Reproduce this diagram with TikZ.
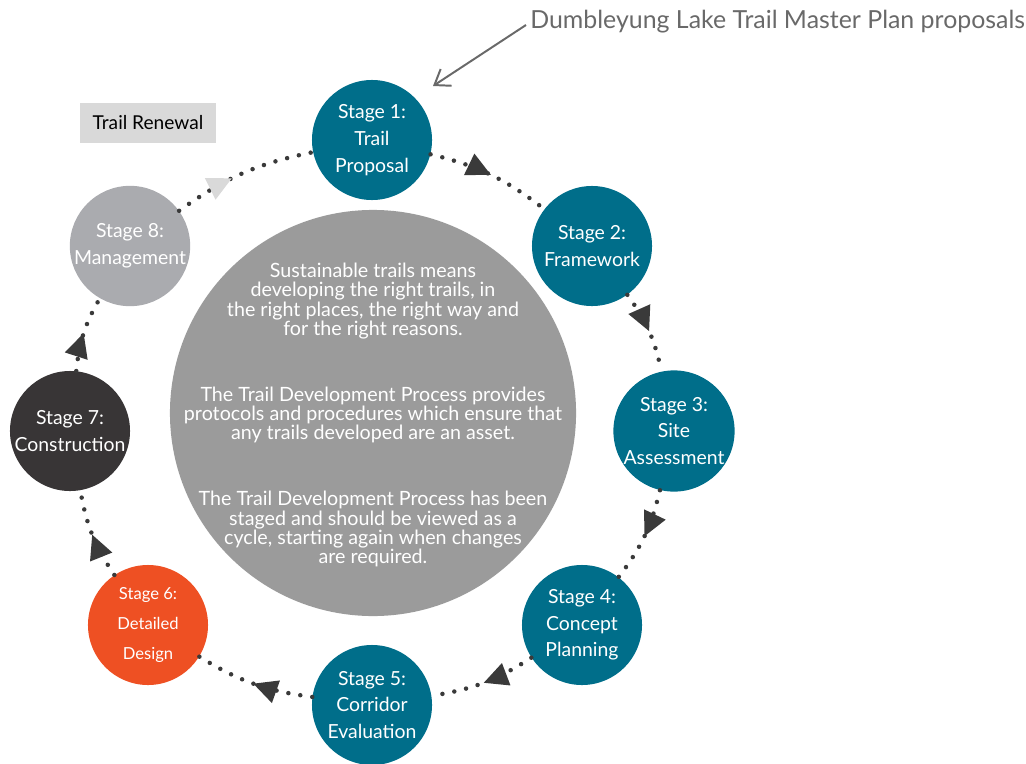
\documentclass[tikz,border=0pt]{standalone}
\usepackage{fontspec}
\setmainfont{Lato}
\usepackage{xcolor}
\definecolor{stageteal}{RGB}{0, 110, 138}
\definecolor{stageorange}{RGB}{238, 80, 35}
\definecolor{stagedark}{RGB}{56, 53, 54}
\definecolor{stagelight}{RGB}{170, 171, 175}
\definecolor{centregray}{RGB}{155, 155, 155}
\definecolor{dotgray}{RGB}{58, 58, 58}
\definecolor{renewgray}{RGB}{217, 217, 217}
\definecolor{titlegray}{RGB}{105, 105, 105}
\usetikzlibrary{arrows.meta,decorations.markings}

\begin{document}
\begin{tikzpicture}[x=0.025cm, y=-0.025cm,
    stage/.style={circle, minimum size=3cm, inner sep=0pt, text=white, align=center, font=\fontsize{13.8}{19}\selectfont},
    dotline/.style={dotgray, line width=3.2pt, line cap=round, dash pattern=on 0pt off 8.6pt},
    flow/.style={dotline, postaction={decorate}, decoration={markings, mark=at position #1 with {\arrow[dotgray, line width=0pt]{Triangle[length=6mm, width=6mm]}}}},
    flow/.default=0.5]
    \useasboundingbox (0,0) rectangle (1026,763);

    % Centre circle
    \node[circle, fill=centregray, minimum size=10.15cm, inner sep=0pt] (core) at (373,413) {};
    \node[text=white, align=center, font=\fontsize{14}{13.6}\selectfont] (para1) at (373,301)
        {Sustainable trails means\\developing the right trails, in\\the right places, the right way and\\for the right reasons.};
    \node[text=white, align=center, font=\fontsize{14}{13.6}\selectfont] (para2) at (373,415)
        {The Trail Development Process provides\\protocols and procedures which ensure that\\any trails developed are an asset.};
    \node[text=white, align=center, font=\fontsize{14}{13.6}\selectfont] (para3) at (373,529)
        {The Trail Development Process has been\\staged and should be viewed as a\\cycle, starting again when changes\\are required.};

    % Stages
    \node[stage, fill=stageteal] (s1) at (372,140) {Stage 1:\\Trail\\Proposal};
    \node[stage, fill=stageteal] (s2) at (592,246) {Stage 2:\\Framework};
    \node[stage, fill=stageteal] (s3) at (674,431) {Stage 3:\\Site\\Assessment};
    \node[stage, fill=stageteal] (s4) at (582,625) {Stage 4:\\Concept\\Planning};
    \node[stage, fill=stageteal] (s5) at (372,705) {Stage 5:\\Corridor\\Evaluation};
    \node[stage, fill=stageorange, font=\fontsize{11.8}{21}\selectfont] (s6) at (148,625) {Stage 6:\\Detailed\\Design};
    \node[stage, fill=stagedark] (s7) at (70,431) {Stage 7:\\Construction};
    \node[stage, fill=stagelight] (s8) at (130,246) {Stage 8:\\Management};

    % Renewal label and title
    \node[fill=renewgray, minimum width=3.4cm, minimum height=0.975cm, font=\fontsize{13.6}{15}\selectfont] (renew) at (148,123) {Trail Renewal};
    \node[anchor=west, text=titlegray, inner sep=0pt, font=\fontsize{17.7}{19}\selectfont] (title) at (530,22) {Dumbleyung Lake Trail Master Plan proposals};
    \coordinate (pointer) at (433,86);

    % Cycle
    \draw[flow] (s1) to[bend left=12] (s2);
    \draw[flow] (s2) to[bend left=12] (s3);
    \draw[flow] (s3) to[bend left=12] (s4);
    \draw[flow] (s4) to[bend left=12] (s5);
    \draw[flow] (s5) to[bend left=12] (s6);
    \draw[flow] (s6) to[bend left=12] (s7);
    \draw[flow] (s7) to[bend left=12] (s8);
    \draw[dotline, postaction={decorate}, decoration={markings, mark=at position 0.42 with {\arrow[renewgray, line width=0pt]{Triangle[length=6mm, width=6mm]}}}] (s8) to[bend left=12] (s1);

    % Title pointer
    \draw[titlegray, line width=1.4pt, -{Straight Barb[length=3.5mm, width=5mm]}] (title.west) ++(-4,3) -- (pointer);
\end{tikzpicture}
\end{document}
